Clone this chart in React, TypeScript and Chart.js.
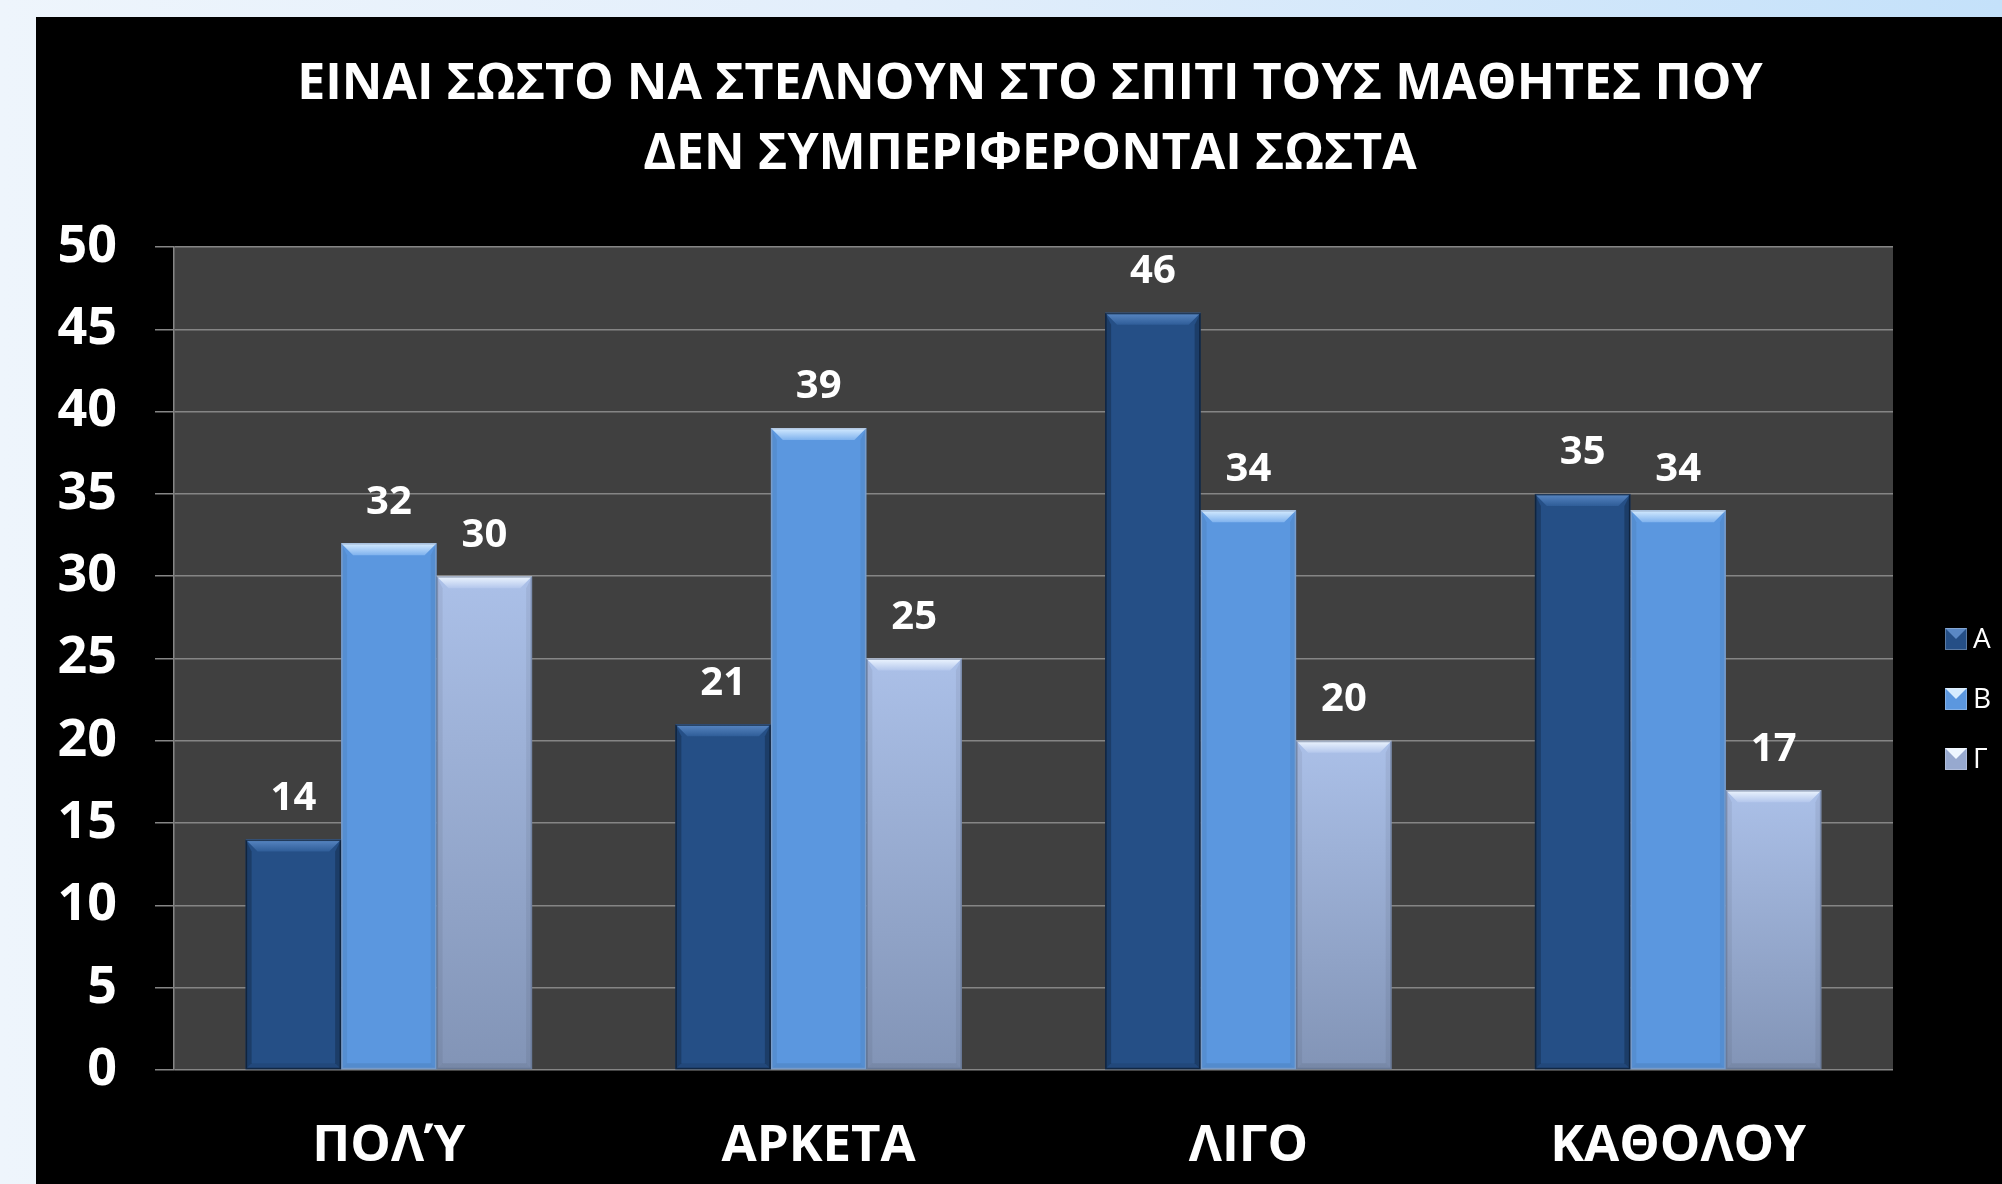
import React, { useEffect, useRef } from "react";
import { Chart, registerables } from "chart.js";

Chart.register(...registerables);

const FONT = "'Open Sans', 'Noto Sans', sans-serif";

const TITLE_LINES = [
  "ΕΙΝΑΙ ΣΩΣΤΟ ΝΑ ΣΤΕΛΝΟΥΝ ΣΤΟ ΣΠΙΤΙ ΤΟΥΣ ΜΑΘΗΤΕΣ ΠΟΥ",
  "ΔΕΝ ΣΥΜΠΕΡΙΦΕΡΟΝΤΑΙ ΣΩΣΤΑ",
];
const CATEGORIES = ["ΠΟΛΎ", "ΑΡΚΕΤΑ", "ΛΙΓΟ", "ΚΑΘΟΛΟΥ"];
const SERIES_NAMES = ["Α", "Β", "Γ"];
const SERIES_A = [14, 21, 46, 35];
const SERIES_B = [32, 39, 34, 34];
const SERIES_C = [30, 25, 20, 17];
const Y_MIN = 0;
const Y_MAX = 50;
const Y_STEP = 5;

const BASE_COLORS = ["#254F86", "#5B97DF", "#97A9CF"];
const BEVEL = [
  { top0: "#5a88c4", top1: "#2f5d98", side: "rgba(0,0,0,0.22)", outline: "rgba(10,25,45,0.7)" },
  { top0: "#d6ecff", top1: "#7fb2ee", side: "rgba(0,0,0,0.06)", outline: "rgba(150,170,200,0.55)" },
  { top0: "#eef6ff", top1: "#b4c7ec", side: "rgba(0,0,0,0.06)", outline: "rgba(90,105,135,0.5)" },
];

const plotBgPlugin = {
  id: "plotBg",
  beforeDraw(chart: any) {
    const { ctx, chartArea } = chart;
    if (!chartArea) return;
    ctx.save();
    ctx.fillStyle = "#404040";
    ctx.fillRect(chartArea.left, chartArea.top, chartArea.right - chartArea.left, chartArea.bottom - chartArea.top);
    ctx.restore();
  },
};

const bevelPlugin = {
  id: "bevel",
  afterDatasetsDraw(chart: any) {
    const ctx = chart.ctx;
    chart.data.datasets.forEach((_ds: any, di: number) => {
      const meta = chart.getDatasetMeta(di);
      const st = BEVEL[di];
      meta.data.forEach((bar: any) => {
        const { x, y, base, width } = bar.getProps(["x", "y", "base", "width"], true);
        const l = x - width / 2;
        const r = x + width / 2;
        const t = y;
        const b = base;
        const d = 12;
        const s = 6;
        ctx.save();
        ctx.fillStyle = st.side;
        ctx.beginPath();
        ctx.moveTo(l, t);
        ctx.lineTo(l + s, t + d);
        ctx.lineTo(l + s, b - s);
        ctx.lineTo(l, b);
        ctx.closePath();
        ctx.fill();
        ctx.beginPath();
        ctx.moveTo(r, t);
        ctx.lineTo(r - s, t + d);
        ctx.lineTo(r - s, b - s);
        ctx.lineTo(r, b);
        ctx.closePath();
        ctx.fill();
        ctx.fillStyle = "rgba(0,0,0,0.08)";
        ctx.beginPath();
        ctx.moveTo(l, b);
        ctx.lineTo(l + s, b - s);
        ctx.lineTo(r - s, b - s);
        ctx.lineTo(r, b);
        ctx.closePath();
        ctx.fill();
        const g = ctx.createLinearGradient(0, t, 0, t + d);
        g.addColorStop(0, st.top0);
        g.addColorStop(1, st.top1);
        ctx.fillStyle = g;
        ctx.beginPath();
        ctx.moveTo(l, t);
        ctx.lineTo(r, t);
        ctx.lineTo(r - d, t + d);
        ctx.lineTo(l + d, t + d);
        ctx.closePath();
        ctx.fill();
        ctx.strokeStyle = st.outline;
        ctx.lineWidth = 1.5;
        ctx.strokeRect(l + 0.75, t + 0.75, width - 1.5, b - t - 1.5);
        ctx.restore();
      });
    });
  },
};

const valueLabelPlugin = {
  id: "valueLabels",
  afterDatasetsDraw(chart: any) {
    const ctx = chart.ctx;
    ctx.save();
    ctx.fillStyle = "#ffffff";
    ctx.font = `bold 40px ${FONT}`;
    ctx.textAlign = "center";
    ctx.textBaseline = "middle";
    chart.data.datasets.forEach((ds: any, di: number) => {
      const meta = chart.getDatasetMeta(di);
      meta.data.forEach((bar: any, i: number) => {
        ctx.fillText(String(ds.data[i]), bar.x, bar.y - 41);
      });
    });
    ctx.restore();
  },
};

const legendPlugin = {
  id: "customLegend",
  afterDraw(chart: any) {
    const ctx = chart.ctx;
    const x0 = 1909;
    const y0 = 622;
    const gap = 60;
    const size = 22;
    ctx.save();
    chart.data.datasets.forEach((ds: any, di: number) => {
      const cy = y0 + di * gap;
      const top = cy - size / 2;
      ctx.fillStyle = BASE_COLORS[di];
      ctx.fillRect(x0, top, size, size);
      ctx.fillStyle = BEVEL[di].top0;
      ctx.beginPath();
      ctx.moveTo(x0, top);
      ctx.lineTo(x0 + size, top);
      ctx.lineTo(x0 + size / 2, top + size / 2);
      ctx.closePath();
      ctx.fill();
      ctx.strokeStyle = "rgba(255,255,255,0.25)";
      ctx.lineWidth = 1;
      ctx.strokeRect(x0 + 0.5, top + 0.5, size - 1, size - 1);
      ctx.fillStyle = "#ffffff";
      ctx.font = `28px ${FONT}`;
      ctx.textAlign = "left";
      ctx.textBaseline = "middle";
      ctx.fillText(ds.label, x0 + 28, cy + 1);
    });
    ctx.restore();
  },
};

function gradientC(c: any) {
  const chart = c.chart;
  const area = chart.chartArea;
  if (!area || c.type !== "data" || !chart.scales.y) return BASE_COLORS[2];
  const top = chart.scales.y.getPixelForValue(c.parsed ? c.parsed.y : c.raw);
  const g = chart.ctx.createLinearGradient(0, top, 0, area.bottom);
  g.addColorStop(0, "#ABC0E8");
  g.addColorStop(1, "#8294B6");
  return g;
}

export default function App() {
  const ref = useRef<HTMLCanvasElement | null>(null);

  useEffect(() => {
    if (!ref.current) return;
    const chart = new Chart(ref.current, {
      type: "bar",
      data: {
        labels: CATEGORIES,
        datasets: [
          { label: SERIES_NAMES[0], data: SERIES_A, backgroundColor: BASE_COLORS[0], borderWidth: 0 },
          { label: SERIES_NAMES[1], data: SERIES_B, backgroundColor: BASE_COLORS[1], borderWidth: 0 },
          { label: SERIES_NAMES[2], data: SERIES_C, backgroundColor: gradientC as any, borderWidth: 0 },
        ],
      },
      options: {
        responsive: false,
        animation: false,
        datasets: { bar: { categoryPercentage: 3 / 4.5, barPercentage: 1 } },
        layout: { padding: { left: 22, right: 0, top: 0, bottom: 0 } },
        plugins: {
          legend: { display: false },
          tooltip: { enabled: false },
          title: {
            display: true,
            text: TITLE_LINES,
            color: "#ffffff",
            font: { family: FONT, size: 50, weight: "bold", lineHeight: 70 / 50 },
            padding: { top: 33, bottom: 57 },
          },
        },
        scales: {
          x: {
            grid: { display: false, drawTicks: false },
            border: { display: false },
            ticks: { color: "#ffffff", font: { family: FONT, size: 51, weight: "bold" }, padding: 46 },
            afterFit: (s: any) => {
              s.height = 114;
            },
          },
          y: {
            min: Y_MIN,
            max: Y_MAX,
            ticks: { stepSize: Y_STEP, color: "#ffffff", font: { family: FONT, size: 52, weight: "bold" }, padding: 38 },
            grid: { color: "#858585", lineWidth: 1.5, tickLength: 19, drawTicks: true },
            border: { display: true, color: "#858585", width: 1.5 },
            afterFit: (s: any) => {
              s.width = 116;
            },
          },
          yRight: {
            type: "linear",
            position: "right",
            display: true,
            min: Y_MIN,
            max: Y_MAX,
            ticks: { display: false },
            grid: { display: false, drawTicks: false },
            border: { display: false },
            afterFit: (s: any) => {
              s.width = 109;
            },
          },
        },
      } as any,
      plugins: [plotBgPlugin, bevelPlugin, valueLabelPlugin, legendPlugin],
    });
    return () => chart.destroy();
  }, []);

  return (
    <div
      style={{
        position: "fixed",
        left: 0,
        top: 0,
        width: 2002,
        height: 1184,
        background: "linear-gradient(90deg, #eef5fc 0%, #e2eefb 45%, #c4e1fa 100%)",
        overflow: "hidden",
      }}
    >
      <div style={{ position: "absolute", left: 36, top: 17, width: 1966, height: 1167, background: "#000000" }}>
        <canvas ref={ref} width={1966} height={1167} style={{ width: 1966, height: 1167, display: "block" }} />
      </div>
    </div>
  );
}
